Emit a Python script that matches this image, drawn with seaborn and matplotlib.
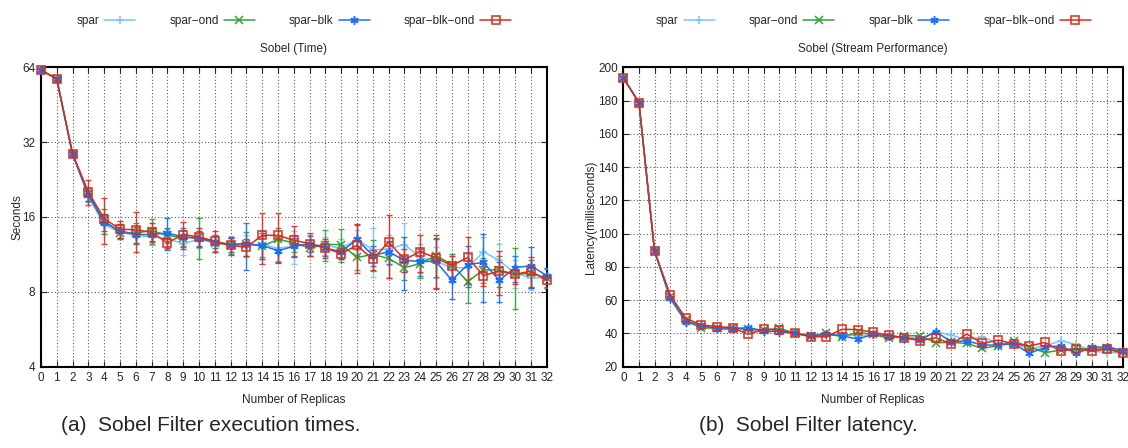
import numpy as np
import pandas as pd
import matplotlib
matplotlib.use("Agg")
import matplotlib.pyplot as plt
import seaborn as sns

replicas = list(range(33))
series = ["spar", "spar\u2212ond", "spar\u2212blk", "spar\u2212blk\u2212ond"]

# execution time (seconds) and error bars
time_spar = [62.4, 57.5, 28.6, 19.3, 14.9, 13.9, 13.5, 13.3, 13.1, 12.5, 13.0, 12.6, 12.5, 12.3, 12.4, 12.0, 12.2,
             12.4, 12.3, 12.0, 13.0, 11.8, 11.9, 12.4, 11.0, 10.6, 10.0, 10.0, 11.6, 10.7, 9.5, 9.1, 9.1]
time_ond = [62.4, 57.5, 28.7, 19.8, 15.5, 13.8, 13.8, 14.1, 13.5, 13.2, 13.3, 12.6, 12.3, 12.5, 12.2, 13.0, 12.6,
            12.0, 12.4, 12.4, 11.0, 11.3, 10.9, 10.0, 10.4, 11.2, 10.3, 8.8, 9.8, 9.8, 9.4, 9.5, 9.1]
time_blk = [62.4, 57.5, 28.6, 19.6, 15.2, 14.1, 13.6, 13.6, 13.8, 13.3, 13.1, 12.7, 12.4, 12.5, 12.3, 11.7, 12.2,
            12.5, 12.0, 11.6, 13.0, 11.2, 11.6, 10.7, 10.6, 10.6, 8.9, 10.3, 10.5, 8.9, 10.0, 10.2, 9.3]
time_blk_ond = [62.4, 57.5, 28.7, 20.2, 15.75, 14.3, 14.2, 13.9, 12.6, 13.6, 13.3, 12.8, 12.3, 12.1, 13.5, 13.5, 12.9,
                12.5, 12.0, 11.4, 12.3, 10.8, 12.7, 10.8, 11.6, 10.95, 10.2, 11.0, 9.3, 9.7, 9.4, 9.7, 8.9]

err_spar = [0.3, 0.4, 0.4, 1.0, 1.2, 0.9, 1.0, 0.9, 1.2, 1.2, 1.0, 0.9, 0.9, 1.3, 1.6, 1.4, 1.8,
            1.2, 1.0, 1.0, 1.2, 2.6, 1.6, 2.8, 1.5, 1.5, 1.2, 1.4, 1.7, 1.8, 1.2, 1.0, 0.9]
err_ond = [0.3, 0.4, 0.4, 1.2, 1.8, 0.8, 1.3, 1.6, 0.9, 1.0, 2.5, 1.0, 0.9, 1.4, 1.2, 1.5, 1.0,
           0.9, 1.8, 1.9, 1.2, 1.6, 1.8, 1.1, 1.3, 2.0, 1.1, 1.6, 1.1, 1.4, 2.6, 1.2, 0.8]
err_blk = [0.3, 0.4, 0.4, 1.0, 1.2, 0.9, 1.0, 0.8, 2.0, 1.2, 0.9, 0.7, 0.8, 2.7, 1.5, 1.2, 1.0,
           0.9, 0.8, 0.8, 1.8, 1.0, 1.2, 2.6, 1.3, 2.4, 1.4, 1.9, 3.2, 1.6, 1.2, 1.9, 0.7]
err_blk_ond = [0.3, 0.4, 0.4, 2.35, 3.3, 1.1, 2.6, 1.25, 0.6, 1.7, 1.2, 1.25, 1.0, 1.0, 3.15, 3.05, 1.85,
               1.35, 1.05, 0.6, 2.75, 1.0, 3.6, 1.15, 1.95, 2.65, 1.0, 2.35, 0.85, 1.95, 0.8, 1.3, 0.55]

# latency (milliseconds)
lat_spar = [193.6, 178.8, 89.4, 61.5, 46.5, 44.0, 43.0, 43.0, 42.0, 40.6, 41.5, 40.0, 38.6, 39.0, 39.4, 38.6, 39.0,
            38.0, 37.8, 37.0, 41.0, 39.0, 36.0, 38.0, 33.8, 33.8, 30.6, 32.4, 35.6, 33.4, 29.4, 28.4, 28.4]
lat_ond = [193.6, 178.8, 89.4, 62.0, 48.0, 43.1, 43.5, 43.5, 42.5, 42.0, 43.1, 40.0, 38.6, 40.0, 38.0, 40.6, 39.4,
           37.0, 38.6, 38.6, 34.4, 34.6, 34.0, 31.0, 32.6, 35.4, 32.0, 28.4, 30.0, 31.0, 30.4, 31.0, 29.0]
lat_blk = [193.6, 178.8, 89.4, 61.1, 47.1, 45.1, 42.7, 42.7, 43.5, 41.5, 41.1, 40.0, 38.6, 39.4, 38.6, 36.6, 39.4,
           38.6, 37.4, 36.0, 41.1, 35.0, 35.6, 33.0, 33.0, 33.8, 28.0, 31.6, 32.6, 28.0, 31.6, 32.0, 29.6]
lat_blk_ond = [193.6, 178.8, 89.6, 63.1, 49.1, 45.1, 44.1, 43.5, 39.4, 42.7, 41.9, 40.0, 38.0, 38.0, 42.5, 42.3, 40.6,
               39.0, 37.4, 35.6, 37.4, 33.6, 39.6, 34.0, 36.0, 33.8, 32.4, 34.6, 29.4, 30.6, 29.4, 30.6, 28.0]

colors = ["#7cc4fa", "#2fa33a", "#1a6ef5", "#dd2a1b"]
markers = ["+", "x", (6, 2, 0), "s"]

sns.set_style("ticks")
plt.rcParams["font.family"] = ["Liberation Sans", "DejaVu Sans"]

fig = plt.figure(figsize=(11.28, 4.48), dpi=100)
ax1 = fig.add_axes([0.0363, 0.1815, 0.4483, 0.6683])
ax2 = fig.add_axes([0.5526, 0.1815, 0.4430, 0.6683])

time_df = pd.DataFrame({"replicas": replicas * 4,
                        "value": time_spar + time_ond + time_blk + time_blk_ond,
                        "err": err_spar + err_ond + err_blk + err_blk_ond,
                        "series": np.repeat(series, 33)})
lat_df = pd.DataFrame({"replicas": replicas * 4,
                       "value": lat_spar + lat_ond + lat_blk + lat_blk_ond,
                       "series": np.repeat(series, 33)})

for i, s in enumerate(series):
    d = time_df[time_df.series == s]
    ax1.errorbar(d.replicas, d.value, yerr=d.err, fmt="none", ecolor=colors[i],
                 elinewidth=1.0, capsize=2, capthick=1.0, alpha=0.9, zorder=2 + i)

for ax, df in [(ax1, time_df), (ax2, lat_df)]:
    for i, s in enumerate(series):
        d = df[df.series == s]
        mfc = "none" if markers[i] == "s" else colors[i]
        sns.lineplot(data=d, x="replicas", y="value", ax=ax, color=colors[i], lw=1.1,
                     marker=markers[i], markersize=6, markerfacecolor=mfc,
                     markeredgecolor=colors[i], markeredgewidth=1.1, label=s,
                     zorder=3 + i, clip_on=False)

ax1.set_yscale("log", base=2)
ax1.set_ylim(4, 64)
ax1.set_yticks([4, 8, 16, 32, 64])
ax1.set_yticklabels(["4", "8", "16", "32", "64"])
ax1.minorticks_off()
ax1.set_ylabel("Seconds", fontsize=8.5, labelpad=-1)

ax2.set_ylim(20, 200)
ax2.set_yticks(range(20, 201, 20))
ax2.set_ylabel("Latency(milliseconds)", fontsize=8.5, labelpad=1)

titles = ["Sobel (Time)", "Sobel (Stream Performance)"]
for ax, t in zip([ax1, ax2], titles):
    ax.set_xlim(0, 32)
    ax.set_xticks(replicas)
    ax.set_xlabel("Number of Replicas", fontsize=8.5, labelpad=7)
    ax.tick_params(direction="in", length=4, width=0.8, labelsize=8.5, top=True, right=True, pad=4)
    ax.grid(True, linestyle=(0, (1, 2)), color="0.35", lw=0.8)
    for sp in ax.spines.values():
        sp.set_linewidth(1.5)
        sp.set_color("black")
    ax.text(0.5, 1 + 18.3 / 299.4, t, transform=ax.transAxes, ha="center", va="center", fontsize=8.5)
    ax.legend(loc="center", bbox_to_anchor=(0.5, 1 + 46.5 / 299.4), ncol=4, frameon=False,
              markerfirst=False, fontsize=8.5, handlelength=2.6, handletextpad=0.45, columnspacing=2.9)

fig.text(0.187, 0.051, "(a)  Sobel Filter execution times.", ha="center", va="center", fontsize=15)
fig.text(0.717, 0.051, "(b)  Sobel Filter latency.", ha="center", va="center", fontsize=15)

fig.savefig("out.png", dpi=100)
